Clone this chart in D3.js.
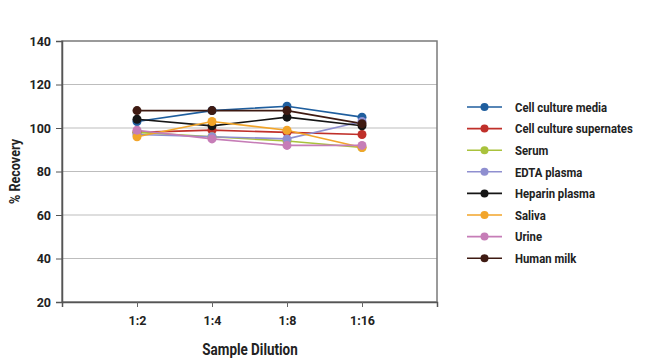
<!DOCTYPE html>
<html>
<head>
<meta charset="utf-8">
<script src="https://cdn.jsdelivr.net/npm/d3@7"></script>
<style>
body { margin: 0; background: #fff; }
text { font-family: Roboto, "Liberation Sans", sans-serif; font-weight: bold; fill: #222; }
</style>
</head>
<body>
<script>
// categories and tick labels
var dilutions = ["1:2", "1:4", "1:8", "1:16"];
var yTicks = [20, 40, 60, 80, 100, 120, 140];
// series
var seriesNames = ["Cell culture media", "Cell culture supernates", "Serum", "EDTA plasma",
	"Heparin plasma", "Saliva", "Urine", "Human milk"];
var cellMedia = [103, 108, 110, 105];
var cellSup = [98, 99, 98, 97];
var serum = [98, 96, 94, 91];
var edta = [97, 96, 95, 103];
var heparin = [104, 101, 105, 101];
var saliva = [96, 103, 99, 91];
var urine = [99, 95, 92, 92];
var milk = [108, 108, 108, 102];
var seriesColors = ["#1f5e9e", "#c0302a", "#a9c23c", "#8f8fd0", "#151515", "#f2a52a", "#c67db7", "#3e1a12"];

var series = [cellMedia, cellSup, serum, edta, heparin, saliva, urine, milk];

var svg = d3.select("body").append("svg").attr("width", 650).attr("height", 363);

var pLeft = 62, pRight = 437, pTop = 41, pBottom = 302;
var narrow = 0.84; // squeeze text, the original font is a condensed one
// index 1..4 for the categories, 0 and 5 are the empty edges
var x = d3.scaleLinear().domain([0, 5]).range([pLeft, pRight]);
var y = d3.scaleLinear().domain([20, 140]).range([pBottom, pTop]);

// grid
svg.append("g").selectAll("line").data(yTicks.slice(1, -1)).enter().append("line")
	.attr("x1", pLeft).attr("x2", pRight)
	.attr("y1", d => y(d)).attr("y2", d => y(d))
	.attr("stroke", "#bdbdbd").attr("stroke-width", 1);

// frame
svg.append("rect").attr("x", pLeft).attr("y", pTop)
	.attr("width", pRight - pLeft).attr("height", pBottom - pTop)
	.attr("fill", "none").attr("stroke", "#7a7a7a").attr("stroke-width", 1.5);

// y axis
var gy = svg.append("g").attr("transform", "translate(" + pLeft + ",0)")
	.call(d3.axisLeft(y).tickValues(yTicks).tickSize(6).tickPadding(5));
gy.select(".domain").attr("stroke", "#555").attr("stroke-width", 1.5);
gy.selectAll(".tick line").attr("stroke", "#555");
gy.selectAll(".tick text").style("font-size", "12.5px");

// x axis
var gx = svg.append("g").attr("transform", "translate(0," + pBottom + ")")
	.call(d3.axisBottom(x).tickValues([1, 2, 3, 4]).tickFormat(d => dilutions[d - 1]).tickSize(5).tickPadding(9));
gx.select(".domain").attr("stroke", "#555").attr("stroke-width", 1.5);
gx.selectAll(".tick line").attr("stroke", "#666");
gx.selectAll(".tick text").style("font-size", "12.5px");

// axis titles
svg.append("text").attr("transform", "translate(20," + ((pTop + pBottom) / 2) + ") rotate(-90) scale(" + narrow + ",1)")
	.attr("text-anchor", "middle").style("font-size", "15px").text("% Recovery");
svg.append("text").attr("transform", "translate(250,355) scale(" + narrow + ",1)")
	.attr("text-anchor", "middle").style("font-size", "16px").text("Sample Dilution");

// lines
var line = d3.line().x((d, i) => x(i + 1)).y(d => y(d));
var plot = svg.append("g");
series.forEach(function(s, k) {
	plot.append("path").datum(s).attr("d", line)
		.attr("fill", "none").attr("stroke", seriesColors[k]).attr("stroke-width", 1.6);
});
series.forEach(function(s, k) {
	plot.selectAll(null).data(s).enter().append("circle")
		.attr("cx", (d, i) => x(i + 1)).attr("cy", d => y(d)).attr("r", 4.5)
		.attr("fill", seriesColors[k]);
});

// legend
var leg = svg.append("g").selectAll("g").data(seriesNames).enter().append("g")
	.attr("transform", (d, i) => "translate(467," + (107 + i * 21.6) + ")");
leg.append("line").attr("x1", 0).attr("x2", 35)
	.attr("stroke", (d, i) => seriesColors[i]).attr("stroke-width", 1.6);
leg.append("circle").attr("cx", 17.5).attr("r", 4).attr("fill", (d, i) => seriesColors[i]);
leg.append("text").attr("transform", "translate(48,0) scale(" + narrow + ",1)")
	.attr("dy", "0.35em").style("font-size", "13.5px").text(d => d);
</script>
</body>
</html>
